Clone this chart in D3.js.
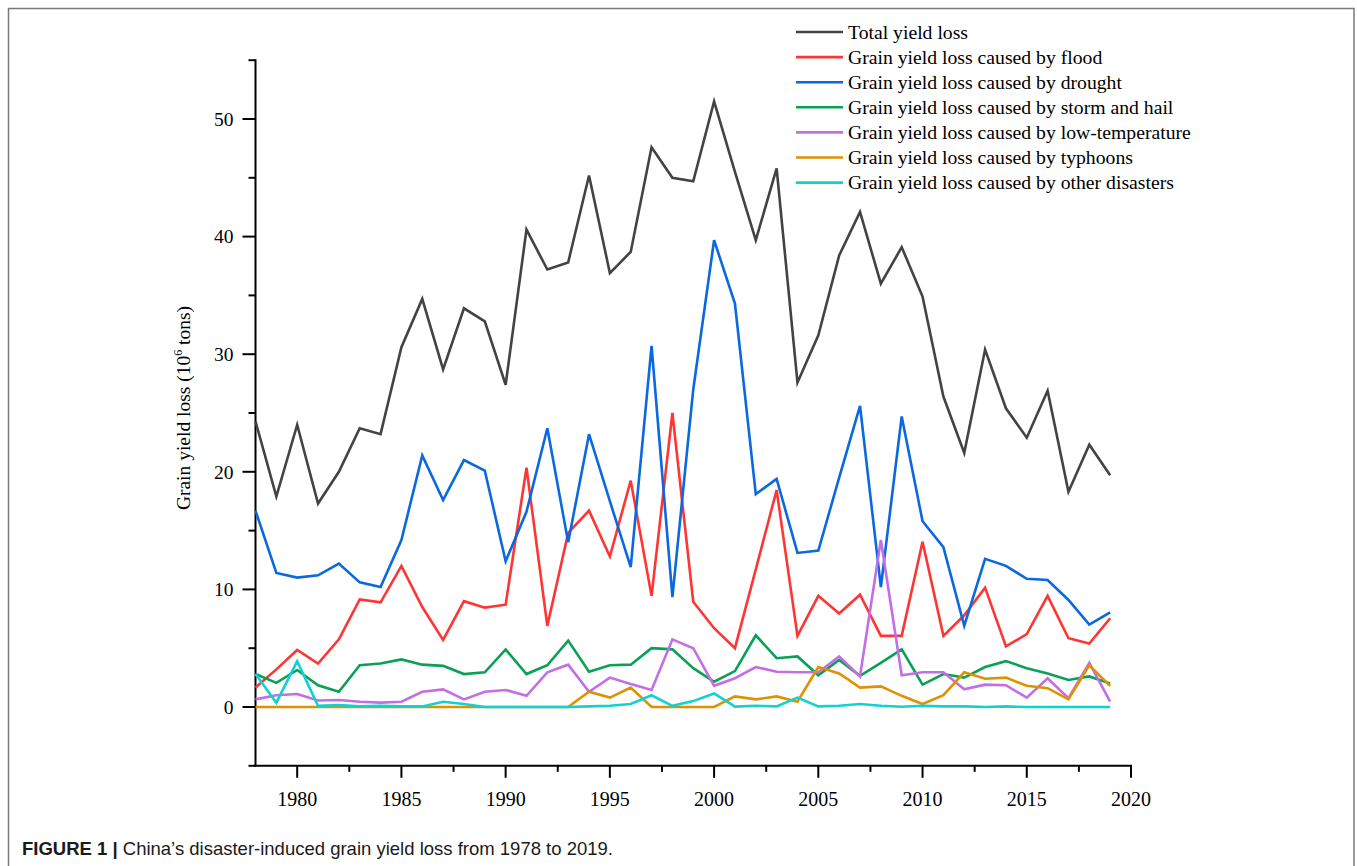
<!DOCTYPE html>
<html>
<head>
<meta charset="utf-8">
<script src="https://cdn.jsdelivr.net/npm/d3@7"></script>
<style>
  body { margin: 0; background: #fff; }
  svg { display: block; }
</style>
</head>
<body>
<div id="chart"></div>
<script>
// years 1978..2019
var years = d3.range(1978, 2020);

var totalLoss   = [24.3, 17.9, 24.0, 17.3, 20.0, 23.7, 23.2, 30.6, 34.7, 28.7, 33.9, 32.8, 27.4, 40.6, 37.2, 37.8, 45.2, 36.9, 38.7, 47.6, 45.0, 44.7, 51.5, 45.5, 39.7, 45.8, 27.6, 31.6, 38.4, 42.1, 36.0, 39.1, 34.9, 26.4, 21.6, 30.4, 25.4, 22.9, 26.9, 18.3, 22.3, 19.7];
var floodLoss   = [1.65, 3.2, 4.85, 3.7, 5.75, 9.15, 8.9, 12.0, 8.5, 5.7, 9.0, 8.45, 8.7, 20.35, 6.9, 14.8, 16.7, 12.8, 19.25, 9.45, 25.0, 8.95, 6.7, 5.0, 11.7, 18.45, 6.05, 9.45, 7.95, 9.55, 6.05, 6.05, 14.05, 6.05, 7.8, 10.15, 5.15, 6.2, 9.45, 5.85, 5.4, 7.55];
var droughtLoss = [16.7, 11.4, 11.0, 11.2, 12.2, 10.6, 10.2, 14.2, 21.4, 17.6, 21.0, 20.1, 12.4, 16.6, 23.7, 14.0, 23.2, 17.5, 11.9, 30.7, 9.35, 27.0, 39.7, 34.3, 18.1, 19.4, 13.1, 13.3, 19.5, 25.6, 10.2, 24.7, 15.8, 13.6, 6.9, 12.6, 12.0, 10.9, 10.8, 9.1, 7.0, 8.05];
var stormLoss   = [2.8, 2.05, 3.15, 1.85, 1.3, 3.55, 3.7, 4.05, 3.6, 3.5, 2.8, 2.95, 4.9, 2.8, 3.55, 5.65, 3.0, 3.55, 3.6, 5.0, 4.9, 3.3, 2.15, 3.05, 6.1, 4.15, 4.3, 2.7, 4.0, 2.65, 3.75, 4.9, 1.9, 2.8, 2.5, 3.4, 3.9, 3.3, 2.85, 2.3, 2.6, 2.0];
var lowTempLoss = [0.65, 1.0, 1.1, 0.55, 0.6, 0.45, 0.37, 0.45, 1.3, 1.5, 0.65, 1.3, 1.45, 0.95, 2.95, 3.6, 1.3, 2.5, 1.95, 1.45, 5.75, 5.0, 1.8, 2.45, 3.4, 3.0, 2.95, 2.95, 4.3, 2.6, 14.2, 2.7, 2.95, 2.95, 1.5, 1.9, 1.85, 0.8, 2.45, 0.75, 3.75, 0.45];
var typhoonLoss = [0, 0, 0, 0, 0, 0, 0, 0, 0, 0, 0, 0, 0, 0, 0, 0, 1.3, 0.8, 1.65, 0, 0, 0, 0, 0.9, 0.65, 0.9, 0.45, 3.4, 2.85, 1.65, 1.75, 0.95, 0.25, 1.0, 2.95, 2.4, 2.5, 1.8, 1.6, 0.65, 3.55, 1.8];
var otherLoss   = [2.8, 0.37, 3.9, 0.1, 0.17, 0.05, 0.1, 0.05, 0.05, 0.45, 0.25, 0, 0, 0, 0, 0, 0.05, 0.1, 0.25, 1.0, 0.1, 0.5, 1.15, 0.03, 0.1, 0.05, 0.8, 0.05, 0.1, 0.25, 0.1, 0.02, 0.1, 0.05, 0.05, 0, 0.05, 0, 0, 0, 0, 0];

var seriesNames = [
  "Total yield loss",
  "Grain yield loss caused by flood",
  "Grain yield loss caused by drought",
  "Grain yield loss caused by storm and hail",
  "Grain yield loss caused by low-temperature",
  "Grain yield loss caused by typhoons",
  "Grain yield loss caused by other disasters"
];
var seriesColors = ["#434343", "#ff3535", "#0a68e0", "#0aa055", "#c46ee6", "#df9200", "#10d2d2"];

var xTickValues = [1980, 1985, 1990, 1995, 2000, 2005, 2010, 2015, 2020];
var xMinorTicks = [1982.5, 1987.5, 1992.5, 1997.5, 2002.5, 2007.5, 2012.5, 2017.5];
var yTickValues = [0, 10, 20, 30, 40, 50];
var yMinorTicks = [-5, 5, 15, 25, 35, 45, 55];

var seriesValues = [totalLoss, floodLoss, droughtLoss, stormLoss, lowTempLoss, typhoonLoss, otherLoss];

var W = 1357, H = 866;
var svg = d3.select("#chart").append("svg")
    .attr("width", W)
    .attr("height", H);

// frame round the figure
svg.append("rect")
    .attr("x", 8.5).attr("y", 8.5)
    .attr("width", 1345.5).attr("height", 900)
    .attr("fill", "none")
    .attr("stroke", "#7a7a7a")
    .attr("stroke-width", 1.5);

var x = d3.scaleLinear().domain([1978, 2020]).range([255.5, 1131]);
var y = d3.scaleLinear().domain([-5, 55]).range([765.8, 60.2]);

var serif = "'Liberation Serif', 'Times New Roman', serif";

// x axis
var xAxis = svg.append("g").attr("transform", "translate(0," + y(-5) + ")");
xAxis.append("line")
    .attr("x1", x(1978) - 1).attr("x2", x(2020) + 1)
    .attr("stroke", "#000").attr("stroke-width", 2);
xAxis.selectAll("line.major").data(xTickValues).enter().append("line")
    .attr("class", "major")
    .attr("x1", x).attr("x2", x)
    .attr("y1", 0).attr("y2", 12)
    .attr("stroke", "#000").attr("stroke-width", 2);
xAxis.selectAll("line.minor").data(xMinorTicks).enter().append("line")
    .attr("class", "minor")
    .attr("x1", x).attr("x2", x)
    .attr("y1", 0).attr("y2", 6)
    .attr("stroke", "#000").attr("stroke-width", 2);
xAxis.selectAll("text").data(xTickValues).enter().append("text")
    .attr("x", x).attr("y", 40)
    .attr("text-anchor", "middle")
    .attr("font-family", serif).attr("font-size", 20)
    .text(function(d) { return d; });

// y axis
var yAxis = svg.append("g").attr("transform", "translate(" + x(1978) + ",0)");
yAxis.append("line")
    .attr("y1", y(55) - 1).attr("y2", y(-5) + 1)
    .attr("stroke", "#000").attr("stroke-width", 2);
yAxis.selectAll("line.major").data(yTickValues).enter().append("line")
    .attr("class", "major")
    .attr("y1", y).attr("y2", y)
    .attr("x1", 0).attr("x2", -13)
    .attr("stroke", "#000").attr("stroke-width", 2);
yAxis.selectAll("line.minor").data(yMinorTicks).enter().append("line")
    .attr("class", "minor")
    .attr("y1", y).attr("y2", y)
    .attr("x1", 0).attr("x2", -7)
    .attr("stroke", "#000").attr("stroke-width", 2);
yAxis.selectAll("text").data(yTickValues).enter().append("text")
    .attr("x", -22).attr("y", y)
    .attr("dy", "0.35em")
    .attr("text-anchor", "end")
    .attr("font-family", serif).attr("font-size", 19.5)
    .text(function(d) { return d; });

// y title
var yTitle = svg.append("text")
    .attr("transform", "translate(190," + 408 + ") rotate(-90)")
    .attr("text-anchor", "middle")
    .attr("font-family", serif).attr("font-size", 19.5);
yTitle.append("tspan").text("Grain yield loss (10");
yTitle.append("tspan").attr("font-size", 12).attr("dy", -8).text("6");
yTitle.append("tspan").attr("dy", 8).text(" tons)");

// lines
var line = d3.line()
    .x(function(d, i) { return x(years[i]); })
    .y(function(d) { return y(d); });

svg.append("g").selectAll("path")
    .data(seriesValues)
    .enter().append("path")
      .attr("d", line)
      .attr("fill", "none")
      .attr("stroke", function(d, i) { return seriesColors[i]; })
      .attr("stroke-width", 2.6)
      .attr("stroke-linejoin", "miter");

// legend
var legend = svg.append("g").attr("transform", "translate(796,32)");
var item = legend.selectAll("g").data(seriesNames).enter().append("g")
    .attr("transform", function(d, i) { return "translate(0," + (i * 25.1) + ")"; });
item.append("line")
    .attr("x1", 0).attr("x2", 47)
    .attr("stroke", function(d, i) { return seriesColors[i]; })
    .attr("stroke-width", 2.6);
item.append("text")
    .attr("x", 52).attr("y", 6.5)
    .attr("font-family", serif).attr("font-size", 19.7)
    .text(function(d) { return d; });

// caption
var caption = svg.append("text")
    .attr("x", 22).attr("y", 855)
    .attr("font-family", "'Liberation Sans', Arial, sans-serif")
    .attr("font-size", 18.5)
    .attr("fill", "#1a1a1a");
caption.append("tspan").attr("font-weight", "bold").text("FIGURE 1 | ");
caption.append("tspan").text("China\u2019s disaster-induced grain yield loss from 1978 to 2019.");
</script>
</body>
</html>
